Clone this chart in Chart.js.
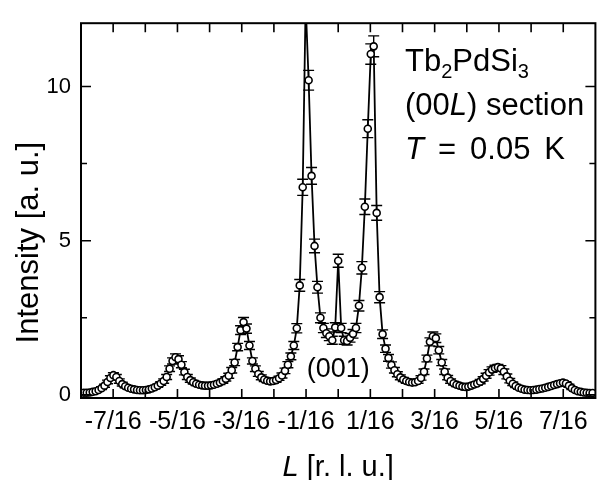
<!DOCTYPE html>
<html>
<head>
<meta charset="utf-8">
<script src="https://cdn.jsdelivr.net/npm/chart.js@4.4.1/dist/chart.umd.min.js"></script>
<style>
  html, body { margin: 0; padding: 0; background: #fff; }
  canvas { display: block; }
</style>
</head>
<body>
<canvas id="scan" width="601" height="480"></canvas>
<script>
// (00L) scan of Tb2PdSi3 at T = 0.05 K
const L = [
  -0.4945, -0.4888, -0.483, -0.4773, -0.4715, -0.4658, -0.46, -0.4543, -0.4485, -0.4428,
  -0.437, -0.4313, -0.4255, -0.4198, -0.414, -0.4083, -0.4025, -0.3968, -0.391, -0.3853,
  -0.3795, -0.3738, -0.368, -0.3623, -0.3565, -0.3508, -0.345, -0.3393, -0.3335, -0.3278,
  -0.322, -0.3163, -0.3105, -0.3048, -0.299, -0.2933, -0.2875, -0.2818, -0.276, -0.2703,
  -0.2645, -0.2588, -0.253, -0.2473, -0.2415, -0.2358, -0.23, -0.2243, -0.2185, -0.2128,
  -0.207, -0.2013, -0.1955, -0.1898, -0.184, -0.1783, -0.1725, -0.1668, -0.161, -0.1553,
  -0.1495, -0.1438, -0.138, -0.1323, -0.1265, -0.1208, -0.115, -0.1093, -0.1035, -0.0978,
  -0.092, -0.0863, -0.0805, -0.0748, -0.069, -0.0633, -0.0575, -0.0518, -0.046, -0.0403,
  -0.0345, -0.0288, -0.023, -0.0173, -0.0115, -0.0058,
  0,
  0.0058, 0.0115, 0.0173, 0.023, 0.0288, 0.0345,
  0.0403, 0.046, 0.0518, 0.0575, 0.0633, 0.069, 0.0748, 0.0805, 0.0863, 0.092,
  0.0978, 0.1035, 0.1093, 0.115, 0.1208, 0.1265, 0.1323, 0.138, 0.1438, 0.1495,
  0.1553, 0.161, 0.1668, 0.1725, 0.1783, 0.184, 0.1898, 0.1955, 0.2013, 0.207,
  0.2128, 0.2185, 0.2243, 0.23, 0.2358, 0.2415, 0.2473, 0.253, 0.2588, 0.2645,
  0.2703, 0.276, 0.2818, 0.2875, 0.2933, 0.299, 0.3048, 0.3105, 0.3163, 0.322,
  0.3278, 0.3335, 0.3393, 0.345, 0.3508, 0.3565, 0.3623, 0.368, 0.3738, 0.3795,
  0.3853, 0.391, 0.3968, 0.4025, 0.4083, 0.414, 0.4198, 0.4255, 0.4313, 0.437,
  0.4428, 0.4485, 0.4543, 0.46, 0.4658, 0.4715, 0.4773, 0.483, 0.4888, 0.4945
];

const intensity = [
  0.07, 0.07, 0.08, 0.1, 0.12, 0.16, 0.22, 0.3, 0.42, 0.55,
  0.64, 0.58, 0.45, 0.35, 0.28, 0.23, 0.2, 0.18, 0.16, 0.15,
  0.15, 0.16, 0.18, 0.21, 0.25, 0.3, 0.37, 0.45, 0.58, 0.85,
  1.1, 1.22, 1.16, 0.98, 0.74, 0.58, 0.48, 0.41, 0.36, 0.33,
  0.31, 0.3, 0.3, 0.31, 0.33, 0.36, 0.4, 0.45, 0.52, 0.62,
  0.8, 1.05, 1.55, 2.1, 2.36, 2.15, 1.6, 1.1, 0.85, 0.68,
  0.57, 0.5, 0.46, 0.44, 0.45, 0.48, 0.54, 0.63, 0.78, 0.98,
  1.25, 1.6, 2.16, 3.55, 6.73, 12.7, 10.2, 7.1, 4.83, 3.49,
  2.5, 2.17, 2.0, 1.9, 1.77, 2.19,
  4.35,
  2.17, 1.77, 1.75, 1.85, 1.98, 2.17,
  2.89, 4.12, 6.1, 8.63, 11.05, 11.3, 5.9, 3.17, 1.97, 1.5,
  1.2, 0.97, 0.8, 0.67, 0.57, 0.5, 0.45, 0.42, 0.4, 0.41,
  0.45, 0.55, 0.75, 1.18, 1.72, 1.9, 1.84, 1.45, 1.05, 0.75,
  0.56, 0.45, 0.38, 0.33, 0.3, 0.27, 0.26, 0.27, 0.3, 0.34,
  0.37, 0.43, 0.52, 0.62, 0.73, 0.82, 0.87, 0.9, 0.86, 0.75,
  0.6, 0.46, 0.36, 0.29, 0.23, 0.2, 0.17, 0.16, 0.15, 0.16,
  0.17, 0.19, 0.21, 0.23, 0.26, 0.29, 0.32, 0.35, 0.38, 0.4,
  0.37, 0.3, 0.22, 0.16, 0.12, 0.1, 0.08, 0.07, 0.06, 0.06
];

const errors = [
  0.03, 0.03, 0.03, 0.03, 0.03, 0.04, 0.05, 0.05, 0.06, 0.07,
  0.08, 0.08, 0.07, 0.06, 0.05, 0.05, 0.04, 0.04, 0.04, 0.04,
  0.04, 0.04, 0.04, 0.05, 0.05, 0.05, 0.06, 0.07, 0.08, 0.09,
  0.1, 0.11, 0.11, 0.1, 0.09, 0.08, 0.07, 0.06, 0.06, 0.06,
  0.06, 0.05, 0.05, 0.06, 0.06, 0.06, 0.06, 0.07, 0.07, 0.08,
  0.09, 0.1, 0.12, 0.14, 0.15, 0.15, 0.13, 0.1, 0.09, 0.08,
  0.08, 0.07, 0.07, 0.07, 0.07, 0.07, 0.07, 0.08, 0.09, 0.1,
  0.11, 0.13, 0.15, 0.19, 0.26, 0.36, 0.32, 0.27, 0.22, 0.19,
  0.16, 0.15, 0.14, 0.14, 0.13, 0.15,
  0.21,
  0.15, 0.13, 0.13, 0.14, 0.14, 0.15,
  0.17, 0.2, 0.25, 0.29, 0.33, 0.34, 0.24, 0.18, 0.14, 0.12,
  0.11, 0.1, 0.09, 0.08, 0.08, 0.07, 0.07, 0.06, 0.06, 0.06,
  0.07, 0.07, 0.09, 0.11, 0.13, 0.14, 0.14, 0.12, 0.1, 0.09,
  0.07, 0.07, 0.06, 0.06, 0.05, 0.05, 0.05, 0.05, 0.05, 0.06,
  0.06, 0.07, 0.07, 0.08, 0.09, 0.09, 0.09, 0.09, 0.09, 0.09,
  0.08, 0.07, 0.06, 0.05, 0.05, 0.04, 0.04, 0.04, 0.04, 0.04,
  0.04, 0.04, 0.05, 0.05, 0.05, 0.05, 0.06, 0.06, 0.06, 0.06,
  0.06, 0.05, 0.05, 0.04, 0.03, 0.03, 0.03, 0.03, 0.02, 0.02
];

// axis ticks: every 1/16 on x (odd ones labelled), every 2.5 on y (0, 5, 10 labelled)
const xTickSixteenths = [-7, -6, -5, -4, -3, -2, -1, 0, 1, 2, 3, 4, 5, 6, 7];
const xTickLabels = ['-7/16', '-5/16', '-3/16', '-1/16', '1/16', '3/16', '5/16', '7/16'];
const yTicks = [0, 2.5, 5, 7.5, 10];
const yTickLabels = ['0', '5', '10'];

const FONT = '"Liberation Sans", Arial, sans-serif';

const fontFor = (run, size) => {
  const s = run.sub ? Math.round(size * 0.66) : size;
  return (run.italic ? 'italic ' : '') + s + 'px ' + FONT;
};

const runWidth = (ctx, r, size) => {
  if (r.gap) return r.gap;
  ctx.font = fontFor(r, size);
  return ctx.measureText(r.t).width;
};

// draws a line of text made of runs (normal / italic / subscript / fixed gaps)
const drawRuns = (ctx, runs, x, y, size, align) => {
  let total = 0;
  runs.forEach(r => { total += runWidth(ctx, r, size); });
  let cx = align === 'center' ? x - total / 2 : x;
  ctx.textAlign = 'left';
  ctx.textBaseline = 'alphabetic';
  runs.forEach(r => {
    if (!r.gap) {
      ctx.font = fontFor(r, size);
      ctx.fillText(r.t, cx, y + (r.sub ? size * 0.24 : 0));
    }
    cx += runWidth(ctx, r, size);
  });
};

const errorBars = {
  id: 'errorBars',
  beforeDatasetsDraw(chart) {
    const { ctx, chartArea: a, scales: { x, y } } = chart;
    ctx.save();
    ctx.beginPath();
    ctx.rect(a.left, a.top, a.right - a.left, a.bottom - a.top);
    ctx.clip();
    ctx.strokeStyle = '#000';
    ctx.lineWidth = 1.4;
    ctx.beginPath();
    L.forEach((l, i) => {
      const px = x.getPixelForValue(l);
      const lo = y.getPixelForValue(intensity[i] - errors[i]);
      const hi = y.getPixelForValue(intensity[i] + errors[i]);
      ctx.moveTo(px, lo); ctx.lineTo(px, hi);
      ctx.moveTo(px - 5.5, lo); ctx.lineTo(px + 5.5, lo);
      ctx.moveTo(px - 5.5, hi); ctx.lineTo(px + 5.5, hi);
    });
    ctx.stroke();
    ctx.restore();
  }
};

const frame = {
  id: 'frame',
  afterDatasetsDraw(chart) {
    const { ctx, chartArea: a, scales: { x, y } } = chart;
    ctx.save();
    ctx.strokeStyle = '#000';
    ctx.lineWidth = 2;
    ctx.strokeRect(a.left, a.top, a.right - a.left, a.bottom - a.top);

    ctx.lineWidth = 1.6;
    ctx.beginPath();
    xTickSixteenths.forEach(n => {
      const px = x.getPixelForValue(n / 16);
      ctx.moveTo(px, a.bottom); ctx.lineTo(px, a.bottom - 9);
      ctx.moveTo(px, a.top); ctx.lineTo(px, a.top + 9);
    });
    yTicks.forEach(v => {
      const py = y.getPixelForValue(v);
      const len = v % 5 === 0 ? 10 : 6;
      ctx.moveTo(a.left, py); ctx.lineTo(a.left + len, py);
      ctx.moveTo(a.right, py); ctx.lineTo(a.right - len, py);
    });
    ctx.stroke();

    ctx.fillStyle = '#000';
    drawRuns(ctx, [{ t: 'Tb' }, { t: '2', sub: true }, { t: 'PdSi' }, { t: '3', sub: true }], 405, 71, 31, 'left');
    drawRuns(ctx, [{ t: '(00' }, { t: 'L', italic: true }, { t: ') section' }], 405, 115, 31, 'left');
    drawRuns(ctx, [{ t: 'T', italic: true }, { gap: 14 }, { t: '=' }, { gap: 14 }, { t: '0.05' }, { gap: 14 }, { t: 'K' }], 405, 159, 31, 'left');
    drawRuns(ctx, [{ t: '(001)' }], x.getPixelForValue(0), 377, 27, 'center');

    // axis titles
    drawRuns(ctx, [{ t: 'L', italic: true }, { t: ' [r. l. u.]' }], x.getPixelForValue(0), 476, 29, 'center');
    ctx.translate(38, (a.top + a.bottom) / 2 + 32);
    ctx.rotate(-Math.PI / 2);
    drawRuns(ctx, [{ t: 'Intensity [a. u.]' }], 0, 0, 31, 'center');
    ctx.restore();
  }
};

new Chart(document.getElementById('scan'), {
  type: 'line',
  data: {
    datasets: [{
      data: L.map((l, i) => ({ x: l, y: intensity[i] })),
      borderColor: '#000',
      borderWidth: 1.8,
      pointRadius: 3.5,
      pointBorderWidth: 1.6,
      pointBorderColor: '#000',
      pointBackgroundColor: '#fff',
      tension: 0,
      clip: 0
    }]
  },
  options: {
    responsive: false,
    animation: false,
    layout: { padding: { top: 15, right: 1, left: 0, bottom: 0 } },
    plugins: { legend: { display: false }, tooltip: { enabled: false } },
    scales: {
      x: {
        type: 'linear',
        min: -0.5,
        max: 0.5,
        grid: { display: false, drawTicks: false },
        border: { display: false },
        afterBuildTicks: s => { s.ticks = xTickSixteenths.map(n => ({ value: n / 16 })); },
        afterFit: s => { s.height = 82; },
        ticks: {
          autoSkip: false,
          maxRotation: 0,
          padding: 9,
          color: '#000',
          font: { family: FONT, size: 25 },
          callback: v => {
            const n = Math.round(v * 16);
            return n % 2 !== 0 ? xTickLabels[(n + 7) / 2] : '';
          }
        }
      },
      y: {
        min: -0.1,
        max: 12.05,
        grid: { display: false, drawTicks: false },
        border: { display: false },
        afterBuildTicks: s => { s.ticks = yTicks.map(v => ({ value: v })); },
        afterFit: s => { s.width = 81; },
        ticks: {
          padding: 10,
          color: '#000',
          font: { family: FONT, size: 22 },
          callback: v => (v % 5 === 0 ? yTickLabels[v / 5] : '')
        }
      }
    }
  },
  plugins: [errorBars, frame]
});
</script>
</body>
</html>
